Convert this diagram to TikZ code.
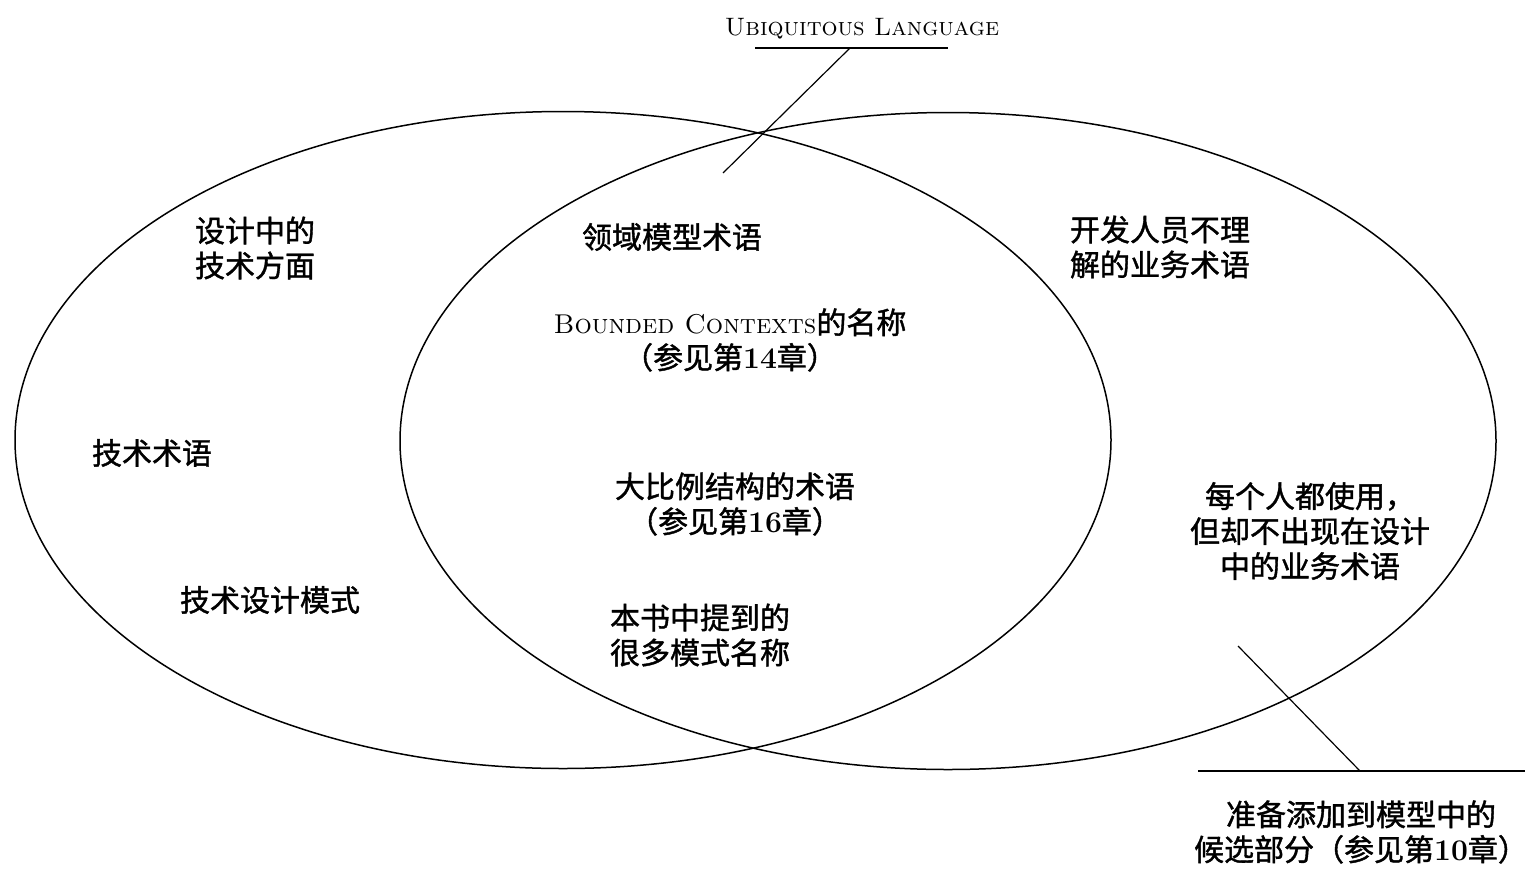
\documentclass[tikz,border=0pt]{standalone}
\usepackage{fontspec}
\newfontfamily\cjk{Noto Sans CJK SC}[FakeBold=1.3]
\usetikzlibrary{shapes.geometric}
\begin{document}
\begin{tikzpicture}[x=0.5pt,y=-0.5pt,
  venn/.style={draw, ellipse, line width=0.75pt, minimum width=548pt, minimum height=328.5pt, inner sep=0pt},
  lbl/.style={font=\cjk\fontsize{15}{17.5}\selectfont, align=left, inner sep=0pt},
  lblc/.style={lbl, align=center},
  leader/.style={line width=0.6pt}]
\useasboundingbox (0,0) rectangle (1531,868);
\fill[white] (0,0) rectangle (1531,868);
% ellipses
\node[venn] (left) at (563,440) {};
\node[venn] (right) at (948,441) {};
% top label
\node[inner sep=0pt, font=\rmfamily\fontsize{12.6}{15}\selectfont] (ul) at (862,29) {\textsc{Ubiquitous Language}};
\coordinate (ulL) at (755,48);
\coordinate (ulR) at (948,48);
\coordinate (ulK) at (850,48);
\coordinate (ulT) at (723,173);
\draw[leader] (ulL) -- (ulR);
\draw[leader] (ulK) -- (ulT);
% left only
\node[lbl] (design) at (255,248) {设计中的\\技术方面};
\node[lbl] (tech) at (152,453) {技术术语};
\node[lbl] (pattern) at (270,600) {技术设计模式};
% intersection
\node[lbl] (domain) at (672,237) {领域模型术语};
\node[lblc] (bc) at (730,340) {{\rmfamily\fontsize{13.6}{17.5}\selectfont\textsc{Bounded Contexts}}的名称\\（参见第{\rmfamily\bfseries 14}章）};
\node[lblc] (large) at (735,504) {大比例结构的术语\\（参见第{\rmfamily\bfseries 16}章）};
\node[lbl] (book) at (700,635) {本书中提到的\\很多模式名称};
% right only
\node[lbl] (dev) at (1160,247) {开发人员不理\\解的业务术语};
\node[lblc] (every) at (1310,531) {每个人都使用，\\但却不出现在设计\\中的业务术语};
% bottom right label
\node[lblc] (cand) at (1361,832) {准备添加到模型中的\\候选部分（参见第{\rmfamily\bfseries 10}章）};
\coordinate (cA) at (1238,646);
\coordinate (cB) at (1360,771);
\coordinate (cL) at (1198,771);
\coordinate (cR) at (1525,771);
\draw[leader] (cA) -- (cB);
\draw[leader] (cL) -- (cR);
\end{tikzpicture}
\end{document}
